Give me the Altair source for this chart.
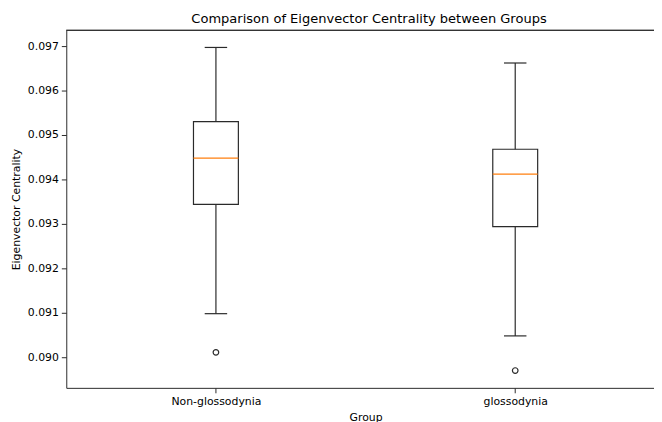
import altair as alt
import pandas as pd

groups = ["Non-glossodynia", "glossodynia"]
whisker_low = [0.09098, 0.09048]
q1 = [0.09344, 0.09294]
median = [0.09448, 0.09412]
q3 = [0.09530, 0.09468]
whisker_high = [0.09697, 0.09662]
outlier_group = ["Non-glossodynia", "glossodynia"]
outlier_value = [0.09011, 0.08970]
y_ticks = [0.090, 0.091, 0.092, 0.093, 0.094, 0.095, 0.096, 0.097]

BOX_HALF = 0.075
CAP_HALF = 0.0375

pos = {g: i + 1 for i, g in enumerate(groups)}
box = pd.DataFrame({
    "group": groups,
    "pos": [pos[g] for g in groups],
    "low": whisker_low, "q1": q1, "median": median, "q3": q3, "high": whisker_high,
})
box["bl"] = box["pos"] - BOX_HALF
box["br"] = box["pos"] + BOX_HALF
box["cl"] = box["pos"] - CAP_HALF
box["cr"] = box["pos"] + CAP_HALF
out = pd.DataFrame({"group": outlier_group, "value": outlier_value})
out["pos"] = out["group"].map(pos)

FONT = "DejaVu Sans"
xscale = alt.Scale(domain=[0.5, 2.4637], nice=False, zero=False)
yscale = alt.Scale(domain=[0.089311, 0.097356], nice=False, zero=False)

xaxis = alt.Axis(
    title="Group", values=[1, 2],
    labelExpr="datum.value == 1 ? 'Non-glossodynia' : 'glossodynia'",
    grid=False, tickSize=5, labelPadding=3, titleX=303, titleY=24,
    titleBaseline="top", labelFlush=False,
)
yaxis = alt.Axis(
    title="Eigenvector Centrality", values=y_ticks, format=".3f",
    grid=False, tickSize=5, labelPadding=3, titleX=-50, titleY=181,
    titleBaseline="middle", titleAngle=-90,
)

base = alt.Chart(box)
LINE = "#2a2a2a"
SW = 1.2

whisk = base.mark_rule(color=LINE, strokeWidth=SW).encode(
    x=alt.X("pos:Q", scale=xscale, axis=xaxis),
    y=alt.Y("low:Q", scale=yscale, axis=yaxis),
    y2="high:Q",
)
rect = base.mark_rect(fill="white", stroke=LINE, strokeWidth=SW).encode(
    x="bl:Q", x2="br:Q", y="q1:Q", y2="q3:Q",
)
med = base.mark_rule(color="#ff7f0e", strokeWidth=SW).encode(
    x="bl:Q", x2="br:Q", y="median:Q",
)
cap_lo = base.mark_rule(color=LINE, strokeWidth=SW).encode(
    x="cl:Q", x2="cr:Q", y="low:Q",
)
cap_hi = base.mark_rule(color=LINE, strokeWidth=SW).encode(
    x="cl:Q", x2="cr:Q", y="high:Q",
)
pts = alt.Chart(out).mark_point(
    shape="circle", filled=False, color=LINE, size=32, strokeWidth=1.2, opacity=1
).encode(x="pos:Q", y="value:Q")
top = alt.Chart(box).mark_rule(color=LINE, strokeWidth=1).encode(y=alt.value(0))

chart = alt.layer(whisk, rect, med, cap_lo, cap_hi, pts, top).properties(
    width=595, height=362,
    title=alt.TitleParams(
        "Comparison of Eigenvector Centrality between Groups",
        font=FONT, fontSize=13.2, fontWeight="normal", color="black",
        anchor="middle", dx=9, offset=4,
    ),
    autosize=alt.AutoSizeParams(type="none"),
    padding={"left": 59, "top": 20, "right": 0, "bottom": 32},
).configure_view(stroke=None).configure_axis(
    labelFont=FONT, titleFont=FONT, labelFontSize=11, titleFontSize=11,
    labelColor="black", titleColor="black", titleFontWeight="normal",
    domainColor=LINE, tickColor=LINE, domainWidth=1, tickWidth=1,
)

chart.save("out.html", embed_options={"renderer": "svg", "actions": False})
